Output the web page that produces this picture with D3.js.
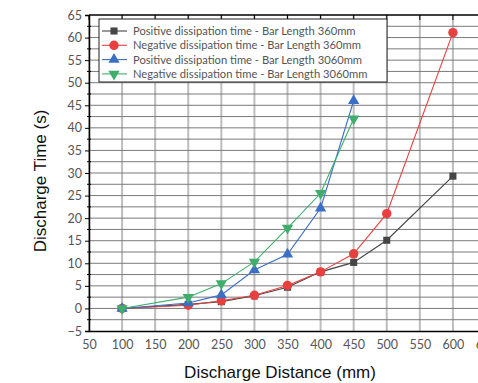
<!DOCTYPE html>
<html>
<head>
<meta charset="utf-8">
<script src="https://cdn.jsdelivr.net/npm/d3@7"></script>
<style>
  body { margin: 0; background: #fff; }
  svg { display: block; }
</style>
</head>
<body>
<svg id="chart"></svg>
<script>
// data
const distances360 = [100, 200, 250, 300, 350, 400, 450, 500, 600];
const distances3060 = [100, 200, 250, 300, 350, 400, 450];
const posTime360 = [0, 0.9, 1.5, 2.8, 4.7, 8.1, 10.2, 15.1, 29.3];
const negTime360 = [0, 0.7, 1.7, 2.9, 5.1, 8.1, 12.1, 21.0, 61.1];
const posTime3060 = [0, 1.2, 3.0, 8.5, 12.0, 22.2, 46.0];
const negTime3060 = [0, 2.5, 5.5, 10.3, 17.8, 25.5, 42.0];
const seriesNames = [
  "Positive dissipation time - Bar Length 360mm",
  "Negative dissipation time - Bar Length 360mm",
  "Positive dissipation time - Bar Length 3060mm",
  "Negative dissipation time - Bar Length 3060mm"
];
const xTicks = d3.range(50, 651, 50);
const yTicks = d3.range(-5, 66, 5);

const width = 478, height = 383;
const margin = {left: 89, top: 15, right: -8, bottom: 52};

const series = [
  {name: seriesNames[0], xs: distances360, ys: posTime360, color: "#454545", shape: d3.symbolSquare, size: 50},
  {name: seriesNames[1], xs: distances360, ys: negTime360, color: "#e8403e", shape: d3.symbolCircle, size: 70},
  {name: seriesNames[2], xs: distances3060, ys: posTime3060, color: "#3b6fc6", shape: d3.symbolTriangle, size: 55},
  {name: seriesNames[3], xs: distances3060, ys: negTime3060, color: "#3fae6c", shape: d3.symbolTriangle, size: 55, flip: true}
];

const svg = d3.select("#chart").attr("width", width).attr("height", height);

const x = d3.scaleLinear().domain([50, 650]).range([margin.left, width - margin.right]);
const y = d3.scaleLinear().domain([-5, 65]).range([height - margin.bottom, margin.top]);

// grid
const grid = svg.append("g");
grid.selectAll(".vg").data(xTicks).enter().append("line")
  .attr("x1", d => x(d)).attr("x2", d => x(d))
  .attr("y1", y(-5)).attr("y2", y(65))
  .attr("stroke", "#bdbdbd").attr("stroke-width", 2);
grid.selectAll(".hg").data(d3.range(-2.5, 65, 2.5)).enter().append("line")
  .attr("x1", x(50)).attr("x2", width)
  .attr("y1", d => y(d)).attr("y2", d => y(d))
  .attr("stroke", "#7a7a7a").attr("stroke-width", 1);

// axes
const tickFont = "Lato, 'Noto Sans', sans-serif";
const xAxis = svg.append("g")
  .attr("transform", `translate(0,${y(-5)})`)
  .call(d3.axisBottom(x).tickValues(xTicks).tickSize(0).tickPadding(9));
const yAxis = svg.append("g")
  .attr("transform", `translate(${x(50)},0)`)
  .call(d3.axisLeft(y).tickValues(yTicks).tickSize(4).tickPadding(3));
[xAxis, yAxis].forEach(a => {
  a.select(".domain").attr("stroke", "#000").attr("stroke-width", 1.5);
  a.selectAll("text").attr("fill", "#555").style("font-size", "12.5px").style("font-family", tickFont);
  a.selectAll("line").attr("stroke", "#000");
});
// minor y ticks
svg.append("g").selectAll("line").data(d3.range(-2.5, 65, 5)).enter().append("line")
  .attr("x1", x(50) - 2).attr("x2", x(50) + 2)
  .attr("y1", d => y(d)).attr("y2", d => y(d))
  .attr("stroke", "#000");
// top border with inward ticks
svg.append("line").attr("x1", x(50)).attr("x2", width)
  .attr("y1", y(65)).attr("y2", y(65)).attr("stroke", "#000").attr("stroke-width", 1.5);
svg.append("g").selectAll("line").data(xTicks).enter().append("line")
  .attr("x1", d => x(d)).attr("x2", d => x(d))
  .attr("y1", y(65)).attr("y2", y(65) + 5)
  .attr("stroke", "#000");

// axis titles
svg.append("text")
  .attr("x", 280).attr("y", 378)
  .attr("text-anchor", "middle")
  .style("font-family", "'Liberation Sans', Arial, sans-serif")
  .style("font-size", "17px")
  .attr("fill", "#111")
  .text("Discharge Distance (mm)");
svg.append("text")
  .attr("transform", `translate(46,${(y(-5) + y(65)) / 2 + 8}) rotate(-90)`)
  .attr("text-anchor", "middle")
  .style("font-family", "'Liberation Sans', Arial, sans-serif")
  .style("font-size", "17px")
  .attr("fill", "#111")
  .text("Discharge Time (s)");

// lines and markers
const line = d3.line().x(d => x(d[0])).y(d => y(d[1]));
series.forEach(s => {
  const pts = s.xs.map((v, i) => [v, s.ys[i]]);
  svg.append("path").datum(pts)
    .attr("d", line).attr("fill", "none")
    .attr("stroke", s.color).attr("stroke-width", 1.1);
  svg.append("g").selectAll("path").data(pts).enter().append("path")
    .attr("transform", d => `translate(${x(d[0])},${y(d[1])})${s.flip ? " rotate(180)" : ""}`)
    .attr("d", d3.symbol().type(s.shape).size(s.size))
    .attr("fill", s.color);
});

// legend
const legend = svg.append("g").attr("transform", "translate(99,19)");
legend.append("rect").attr("width", 288).attr("height", 63)
  .attr("fill", "#fff").attr("stroke", "#222").attr("stroke-width", 1);
series.forEach((s, i) => {
  const ly = 12 + i * 14.3;
  legend.append("line").attr("x1", 3).attr("x2", 28).attr("y1", ly).attr("y2", ly)
    .attr("stroke", s.color).attr("stroke-width", 1.1);
  legend.append("path")
    .attr("transform", `translate(15,${ly})${s.flip ? " rotate(180)" : ""}`)
    .attr("d", d3.symbol().type(s.shape).size(s.size))
    .attr("fill", s.color);
  legend.append("text").attr("x", 34).attr("y", ly + 4)
    .style("font-family", tickFont).style("font-size", "11.2px")
    .attr("fill", "#555").text(s.name);
});
</script>
</body>
</html>
